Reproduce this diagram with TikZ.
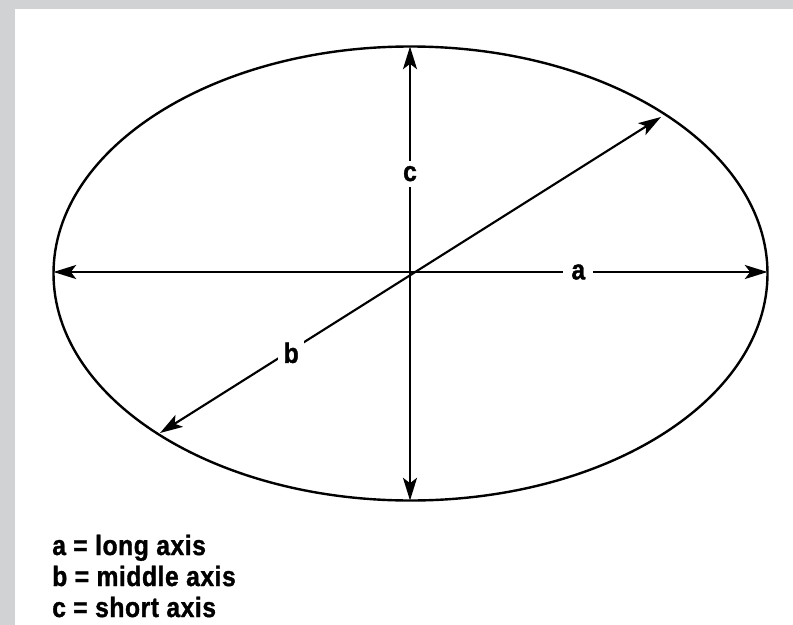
\documentclass[tikz,border=0pt]{standalone}
\usepackage{fontspec}
\setmainfont{Liberation Sans}[FakeStretch=0.88,BoldFeatures={FakeBold=1.2,LetterSpace=2}]
\usetikzlibrary{arrows.meta,shapes.geometric}
\definecolor{framegray}{HTML}{D1D2D4}
\tikzset{
  axis/.style={line width=1.6pt,{Stealth[length=17pt,width=10.5pt,inset=4pt]}-{Stealth[length=17pt,width=10.5pt,inset=4pt]}},
  axlabel/.style={fill=white,font=\bfseries\fontsize{21}{24}\selectfont,inner xsep=6pt,inner ysep=4pt},
  legend/.style={font=\bfseries\fontsize{21}{24}\selectfont,anchor=base west,inner sep=0pt}
}
\begin{document}
\begin{tikzpicture}[x=0.75pt,y=-0.75pt]
\useasboundingbox (0,0) rectangle (793,625);
\fill[framegray] (0,0) rectangle (793,625);
\fill[white] (15,9) rectangle (793,625);
\node[ellipse,draw,line width=1.8pt,minimum width=535.5pt,minimum height=340.5pt,inner sep=0pt,outer sep=0pt] (e) at (410.5,273.5) {};
\coordinate (o) at (410,272);
\coordinate (bl) at (160,433);
\coordinate (tr) at (661,117);
\draw[axis] (e.west |- o) -- node[axlabel,pos=0.735] {a} (e.east |- o);
\draw[axis] (e.south -| o) -- node[axlabel,pos=0.72] {c} (e.north -| o);
\draw[axis] (bl) -- node[axlabel,pos=0.262,inner xsep=4pt,yshift=-2pt] {b} (tr);
\node[legend] (l1) at (52,555) {a = long axis};
\node[legend] (l2) at (52,586) {b = middle axis};
\node[legend] (l3) at (52,617) {c = short axis};
\end{tikzpicture}
\end{document}
